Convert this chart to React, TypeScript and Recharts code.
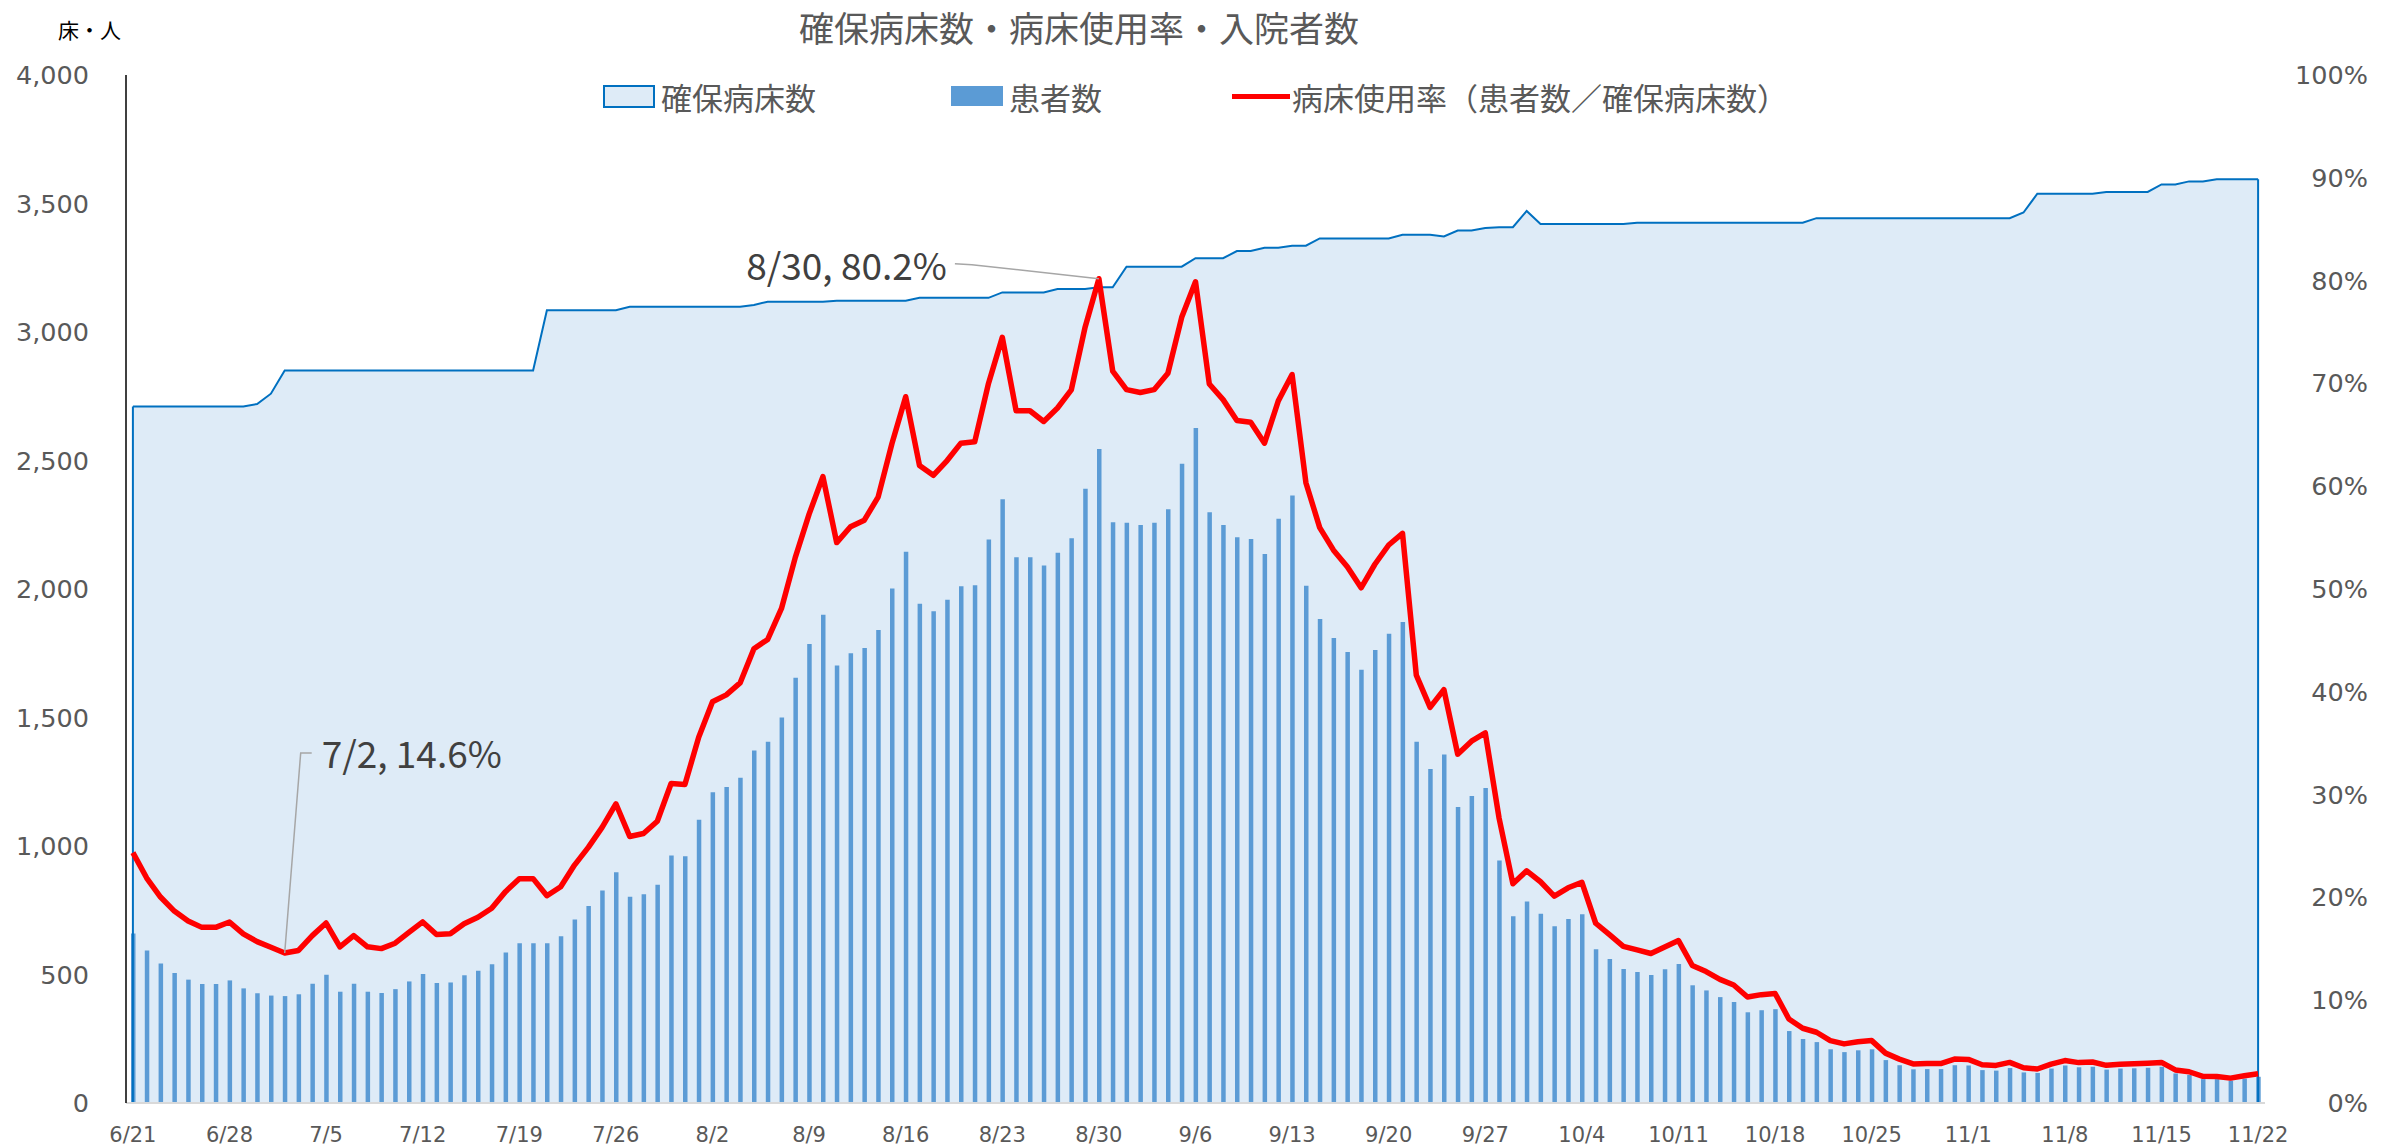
import { ComposedChart, Area, Bar, Line, XAxis, YAxis, ReferenceLine, ReferenceDot } from 'recharts'

// calendar span of the chart: [month, first day, last day]
const MONTHS = [[6, 21, 30], [7, 1, 31], [8, 1, 31], [9, 1, 30], [10, 1, 31], [11, 1, 22]]
const dates: string[] = []
MONTHS.forEach(([m, from, to]) => {
  for (let d = from; d <= to; d++) dates.push(`${m}/${d}`)
})

// 患者数 (one row per week, starting 6/21)
const patients = [
  660, 593, 543, 506, 480, 463, 463,
  477, 446, 427, 418, 416, 423, 464,
  499, 433, 464, 433, 428, 443, 473,
  502, 467, 469, 497, 515, 540, 586,
  622, 622, 622, 649, 714, 767, 827,
  898, 803, 812, 849, 963, 960, 1102,
  1209, 1230, 1266, 1372, 1406, 1500, 1655,
  1786, 1900, 1702, 1750, 1770, 1840, 2002,
  2145, 1943, 1913, 1958, 2011, 2015, 2193,
  2349, 2124, 2124, 2091, 2141, 2197, 2390,
  2545, 2260, 2258, 2249, 2258, 2310, 2487,
  2626, 2299, 2249, 2201, 2195, 2136, 2273,
  2364, 2013, 1883, 1809, 1755, 1686, 1763,
  1826, 1872, 1406, 1300, 1356, 1152, 1195,
  1226, 944, 727, 784, 736, 688, 716,
  734, 598, 560, 521, 510, 498, 520,
  541, 458, 438, 412, 393, 353, 361,
  365, 280, 249, 237, 209, 198, 205,
  209, 167, 147, 131, 132, 132, 147,
  146, 128, 126, 136, 119, 117, 134,
  146, 139, 141, 130, 134, 135, 137,
  141, 115, 109, 93, 93, 87, 95,
  102,
]

// 確保病床数
const beds = [
  2710, 2710, 2710, 2710, 2710, 2710, 2710,
  2710, 2710, 2720, 2760, 2850, 2850, 2850,
  2850, 2850, 2850, 2850, 2850, 2850, 2850,
  2850, 2850, 2850, 2850, 2850, 2850, 2850,
  2850, 2850, 3085, 3085, 3085, 3085, 3085,
  3085, 3098, 3098, 3098, 3098, 3098, 3098,
  3098, 3098, 3098, 3105, 3118, 3118, 3118,
  3118, 3118, 3122, 3122, 3122, 3122, 3122,
  3122, 3133, 3133, 3133, 3133, 3133, 3133,
  3154, 3154, 3154, 3154, 3167, 3167, 3167,
  3174, 3174, 3254, 3254, 3254, 3254, 3254,
  3287, 3287, 3287, 3315, 3315, 3328, 3328,
  3336, 3336, 3364, 3364, 3364, 3364, 3364,
  3364, 3378, 3378, 3378, 3372, 3395, 3395,
  3405, 3408, 3408, 3471, 3420, 3420, 3420,
  3420, 3420, 3420, 3420, 3425, 3425, 3425,
  3425, 3425, 3425, 3425, 3425, 3425, 3425,
  3425, 3425, 3425, 3443, 3443, 3443, 3443,
  3443, 3443, 3443, 3443, 3443, 3443, 3443,
  3443, 3443, 3443, 3443, 3465, 3538, 3538,
  3538, 3538, 3538, 3545, 3545, 3545, 3545,
  3574, 3574, 3586, 3586, 3594, 3594, 3594,
  3594,
]

const leftTicks = [0, 500, 1000, 1500, 2000, 2500, 3000, 3500, 4000]
const rightTicks = [0, 0.1, 0.2, 0.3, 0.4, 0.5, 0.6, 0.7, 0.8, 0.9, 1]
const callouts = [
  { date: '7/2', side: 'right' },
  { date: '8/30', side: 'left' },
]

const data = dates.map((date, i) => ({
  date,
  beds: beds[i],
  patients: patients[i],
  rate: patients[i] / beds[i],
}))

const AXIS_FONT = 'DejaVu Sans, Verdana, sans-serif'
const JP_FONT = '"Noto Sans CJK JP", "Noto Sans", sans-serif'

const fmtNum = (v: number) => String(v).replace(/\B(?=(\d{3})+(?!\d))/g, ',')
const fmtPct = (v: number) => `${Math.round(v * 100)}%`

const Callout = ({ cx, cy, text, side }: any) => {
  if (cx == null || cy == null) return null
  const style = { fontFamily: JP_FONT, fontSize: 37, fill: '#404040' }
  if (side === 'left') {
    return (
      <g>
        <polyline points={`${cx},${cy} ${cx - 127},${cy - 14} ${cx - 144},${cy - 15}`}
          fill="none" stroke="#A6A6A6" strokeWidth={1.5} />
        <text x={cx - 152} y={cy - 15} textAnchor="end" dominantBaseline="central" style={style}>{text}</text>
      </g>
    )
  }
  return (
    <g>
      <polyline points={`${cx},${cy} ${cx + 16},${cy - 200} ${cx + 27},${cy - 200}`}
        fill="none" stroke="#A6A6A6" strokeWidth={1.5} />
      <text x={cx + 37} y={cy - 201} textAnchor="start" dominantBaseline="central" style={style}>{text}</text>
    </g>
  )
}

export default function App() {
  const last = dates.length - 1
  return (
    <div style={{ position: 'absolute', left: 0, top: 0, width: 2399, height: 1148, background: '#fff' }}>
      <ComposedChart width={2399} height={1148} data={data}
        margin={{ top: 75, right: 0, left: 0, bottom: 0 }}>
        <XAxis dataKey="date" interval={6} height={45} tickSize={0} tickMargin={24}
          axisLine={{ stroke: '#D9D9D9', strokeWidth: 2 }}
          tick={{ fill: '#595959', fontSize: 21, fontFamily: AXIS_FONT }} />
        <YAxis yAxisId="left" orientation="left" width={126} domain={[0, 4000]} ticks={leftTicks}
          tickFormatter={fmtNum} tickSize={0} tickMargin={37}
          axisLine={{ stroke: '#000', strokeWidth: 1.5 }}
          tick={{ fill: '#595959', fontSize: 25.5, fontFamily: AXIS_FONT }} />
        <YAxis yAxisId="right" orientation="right" width={134} domain={[0, 1]} ticks={rightTicks}
          tickFormatter={fmtPct} tickSize={0} tickMargin={103} axisLine={false}
          tick={{ fill: '#595959', fontSize: 25.5, fontFamily: AXIS_FONT, textAnchor: 'end' }} />
        <Area yAxisId="left" dataKey="beds" type="linear" fill="#DEEBF7" fillOpacity={1}
          stroke="#0070C0" strokeWidth={2} isAnimationActive={false} />
        <ReferenceLine yAxisId="left" segment={[{ x: dates[0], y: 0 }, { x: dates[0], y: beds[0] }]}
          stroke="#0070C0" strokeWidth={2} />
        <ReferenceLine yAxisId="left" segment={[{ x: dates[last], y: 0 }, { x: dates[last], y: beds[last] }]}
          stroke="#0070C0" strokeWidth={2} />
        <Bar yAxisId="left" dataKey="patients" fill="#5B9BD5" barSize={4.5} isAnimationActive={false} />
        <Line yAxisId="right" dataKey="rate" type="linear" stroke="#FF0000" strokeWidth={5.5}
          strokeLinejoin="round" dot={false} activeDot={false} isAnimationActive={false} />
        {callouts.map((c) => {
          const i = dates.indexOf(c.date)
          const text = `${c.date}, ${(data[i].rate * 100).toFixed(1)}%`
          return (
            <ReferenceDot key={c.date} yAxisId="right" x={c.date} y={data[i].rate} r={2}
              shape={(p: any) => <Callout cx={p.cx} cy={p.cy} text={text} side={c.side} />} />
          )
        })}
      </ComposedChart>
      <svg width={2399} height={1148} style={{ position: 'absolute', left: 0, top: 0, pointerEvents: 'none' }}>
        <text x={1079} y={26} textAnchor="middle" dominantBaseline="central"
          style={{ fontFamily: JP_FONT, fontSize: 35, fill: '#595959' }}>確保病床数・病床使用率・入院者数</text>
        <text x={58} y={29} dominantBaseline="central"
          style={{ fontFamily: JP_FONT, fontSize: 21, fill: '#000' }}>床・人</text>
        <g style={{ fontFamily: JP_FONT, fontSize: 31, fill: '#595959' }}>
          <rect x={604} y={86} width={50} height={21} fill="#DEEBF7" stroke="#0070C0" strokeWidth={2} />
          <text x={661} y={96} dominantBaseline="central">確保病床数</text>
          <rect x={951} y={86} width={52} height={20} fill="#5B9BD5" />
          <text x={1009} y={96} dominantBaseline="central">患者数</text>
          <line x1={1232} y1={96.5} x2={1290} y2={96.5} stroke="#FF0000" strokeWidth={5} />
          <text x={1292} y={96} dominantBaseline="central">病床使用率（患者数／確保病床数）</text>
        </g>
      </svg>
    </div>
  )
}
